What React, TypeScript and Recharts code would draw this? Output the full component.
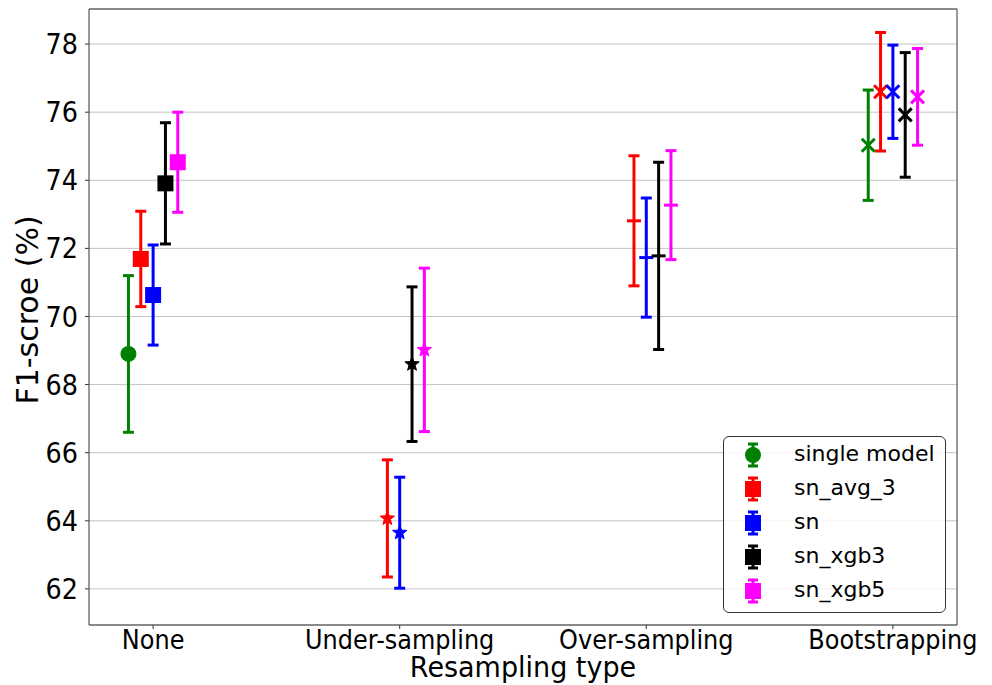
import React from 'react';
import {
  ScatterChart,
  Scatter,
  XAxis,
  YAxis,
  CartesianGrid,
  ErrorBar,
  ReferenceArea,
  Legend,
} from 'recharts';

// ---------- data ----------
const categories = ['None', 'Under-sampling', 'Over-sampling', 'Bootstrapping'];
const seriesNames = ['single model', 'sn_avg_3', 'sn', 'sn_xgb3', 'sn_xgb5'];
const seriesColors = ['#008000', '#ff0000', '#0000ff', '#000000', '#ff00ff'];
const seriesOffsets = [-0.1, -0.05, 0, 0.05, 0.1];

const singleModelMean = [68.9, null, null, 75.03];
const singleModelErr = [2.3, null, null, 1.62];
const snAvg3Mean = [71.69, 64.07, 72.81, 76.6];
const snAvg3Err = [1.4, 1.72, 1.91, 1.74];
const snMean = [70.63, 63.65, 71.73, 76.6];
const snErr = [1.47, 1.63, 1.75, 1.37];
const snXgb3Mean = [73.91, 68.6, 71.78, 75.92];
const snXgb3Err = [1.78, 2.27, 2.75, 1.83];
const snXgb5Mean = [74.53, 69.02, 73.27, 76.45];
const snXgb5Err = [1.47, 2.4, 1.6, 1.42];

const yTicks = [62, 64, 66, 68, 70, 72, 74, 76, 78];
const xTicks = [0, 1, 2, 3];
const yDomain: [number, number] = [60.94, 79.03];
const xDomain: [number, number] = [-0.26, 3.26];

const allMeans = [singleModelMean, snAvg3Mean, snMean, snXgb3Mean, snXgb5Mean];
const allErrs = [singleModelErr, snAvg3Err, snErr, snXgb3Err, snXgb5Err];

type Pt = { x: number; y: number; err: number; ci: number };

function buildSeries(si: number): Pt[] {
  const out: Pt[] = [];
  allMeans[si].forEach((m, ci) => {
    if (m == null) return;
    out.push({ x: ci + seriesOffsets[si], y: m as number, err: allErrs[si][ci] as number, ci });
  });
  return out;
}

const FONT = '"DejaVu Sans", sans-serif';
const STRETCH = 1.1;

function markerKind(si: number, ci: number): string {
  if (ci === 0) return si === 0 ? 'circle' : 'square';
  if (ci === 1) return 'star';
  if (ci === 2) return 'hline';
  return 'x';
}

function starPath(cx: number, cy: number, ro: number, ri: number) {
  let d = '';
  for (let k = 0; k < 10; k++) {
    const r = k % 2 === 0 ? ro : ri;
    const a = -Math.PI / 2 + (k * Math.PI) / 5;
    d += (k === 0 ? 'M' : 'L') + (cx + r * Math.cos(a)).toFixed(2) + ',' + (cy + r * Math.sin(a)).toFixed(2);
  }
  return d + 'Z';
}

function makeShape(si: number) {
  return (props: any) => {
    const { cx, cy, payload } = props;
    const c = seriesColors[si];
    const kind = markerKind(si, payload.ci);
    if (kind === 'circle') return <circle cx={cx} cy={cy} r={8} fill={c} />;
    if (kind === 'square') return <rect x={cx - 8} y={cy - 8} width={16} height={16} fill={c} />;
    if (kind === 'star') return <path d={starPath(cx, cy, 7.5, 3.2)} fill={c} stroke={c} strokeWidth={1} />;
    if (kind === 'hline')
      return <line x1={cx - 7} x2={cx + 7} y1={cy} y2={cy} stroke={c} strokeWidth={3} />;
    return (
      <g stroke={c} strokeWidth={3}>
        <line x1={cx - 6.5} y1={cy - 6.5} x2={cx + 6.5} y2={cy + 6.5} />
        <line x1={cx - 6.5} y1={cy + 6.5} x2={cx + 6.5} y2={cy - 6.5} />
      </g>
    );
  };
}

function LegendBox() {
  return (
    <div
      style={{
        position: 'relative',
        width: 223,
        height: 177,
        border: '1.5px solid #333',
        borderRadius: 6,
        background: 'rgba(255,255,255,0.8)',
        boxSizing: 'border-box',
        fontFamily: FONT,
        fontSize: 22,
        color: '#000',
      }}
    >
      {seriesNames.map((name, i) => {
        const c = seriesColors[i];
        const top = 17.5 + i * 34.2;
        return (
          <div key={name} style={{ position: 'absolute', left: 0, top: top - 17, height: 34, width: '100%' }}>
            <svg width={30} height={34} style={{ position: 'absolute', left: 14, top: 0 }}>
              <line x1={15} x2={15} y1={6} y2={28} stroke={c} strokeWidth={3} />
              <line x1={10} x2={20} y1={6} y2={6} stroke={c} strokeWidth={3} />
              <line x1={10} x2={20} y1={28} y2={28} stroke={c} strokeWidth={3} />
              {i === 0 ? (
                <circle cx={15} cy={17} r={8} fill={c} />
              ) : (
                <rect x={7} y={9} width={16} height={16} fill={c} />
              )}
            </svg>
            <span style={{ position: 'absolute', left: 70, top: 3, lineHeight: '26px', whiteSpace: 'nowrap' }}>{name}</span>
          </div>
        );
      })}
    </div>
  );
}

function XTick(props: any) {
  const { x, y, payload } = props;
  return (
    <text
      transform={`translate(${x},${y}) scale(1,${STRETCH})`}
      textAnchor="middle"
      dy="0.71em"
      fontSize={24}
      fontFamily={FONT}
      fill="#000"
    >
      {categories[payload.value] ?? ''}
    </text>
  );
}

function YTick(props: any) {
  const { x, y, payload } = props;
  return (
    <text
      transform={`translate(${x},${y}) scale(1,${STRETCH})`}
      textAnchor="end"
      dy="0.36em"
      fontSize={25.5}
      fontFamily={FONT}
      fill="#000"
    >
      {payload.value}
    </text>
  );
}

function YTitle(props: any) {
  const vb = props.viewBox || { y: 9, height: 616 };
  const x = 38;
  const y = vb.y + vb.height / 2 - 7;
  return (
    <text x={x} y={y} transform={`rotate(-90, ${x}, ${y})`} textAnchor="middle" fontSize={30} fontFamily={FONT} fill="#000">
      F1-scroe (%)
    </text>
  );
}

function XTitle(props: any) {
  const vb = props.viewBox || { x: 89, width: 868 };
  const x = vb.x + vb.width / 2;
  return (
    <text
      transform={`translate(${x},677) scale(1,1.05)`}
      textAnchor="middle"
      fontSize={27}
      fontFamily={FONT}
      fill="#000"
    >
      Resampling type
    </text>
  );
}

export default function App() {
  return (
    <div style={{ position: 'absolute', left: 0, top: 0, width: 992, height: 685, background: '#fff' }}>
      <ScatterChart width={992} height={685} margin={{ top: 9, right: 35, bottom: 0, left: 0 }}>
        <CartesianGrid vertical={false} stroke="#c4c4c4" strokeWidth={1} />
        <XAxis
          type="number"
          dataKey="x"
          domain={xDomain}
          ticks={xTicks}
          allowDataOverflow
          height={60}
          tick={<XTick />}
          tickSize={4}
          tickMargin={1}
          axisLine={false}
          tickLine={{ stroke: '#333' }}
          interval={0}
          label={<XTitle />}
        />
        <YAxis
          type="number"
          dataKey="y"
          domain={yDomain}
          ticks={yTicks}
          allowDataOverflow
          width={89}
          tick={<YTick />}
          tickSize={4}
          tickMargin={7}
          axisLine={false}
          tickLine={{ stroke: '#333' }}
          interval={0}
          label={<YTitle />}
        />
        <ReferenceArea x1={xDomain[0]} x2={xDomain[1]} y1={yDomain[0]} y2={yDomain[1]} fill="none" stroke="#333" strokeWidth={1} fillOpacity={0} />
        {seriesNames.map((name, si) => (
          <Scatter
            key={name}
            name={name}
            data={buildSeries(si)}
            fill={seriesColors[si]}
            isAnimationActive={false}
            shape={makeShape(si)}
          >
            <ErrorBar dataKey="err" direction="y" width={5.5} strokeWidth={3} stroke={seriesColors[si]} isAnimationActive={false} />
          </Scatter>
        ))}
        <Legend
          layout="vertical"
          align="center"
          verticalAlign="middle"
          wrapperStyle={{ left: 723, top: 436, width: 223, height: 177 }}
          content={() => <LegendBox />}
        />
      </ScatterChart>
    </div>
  );
}
